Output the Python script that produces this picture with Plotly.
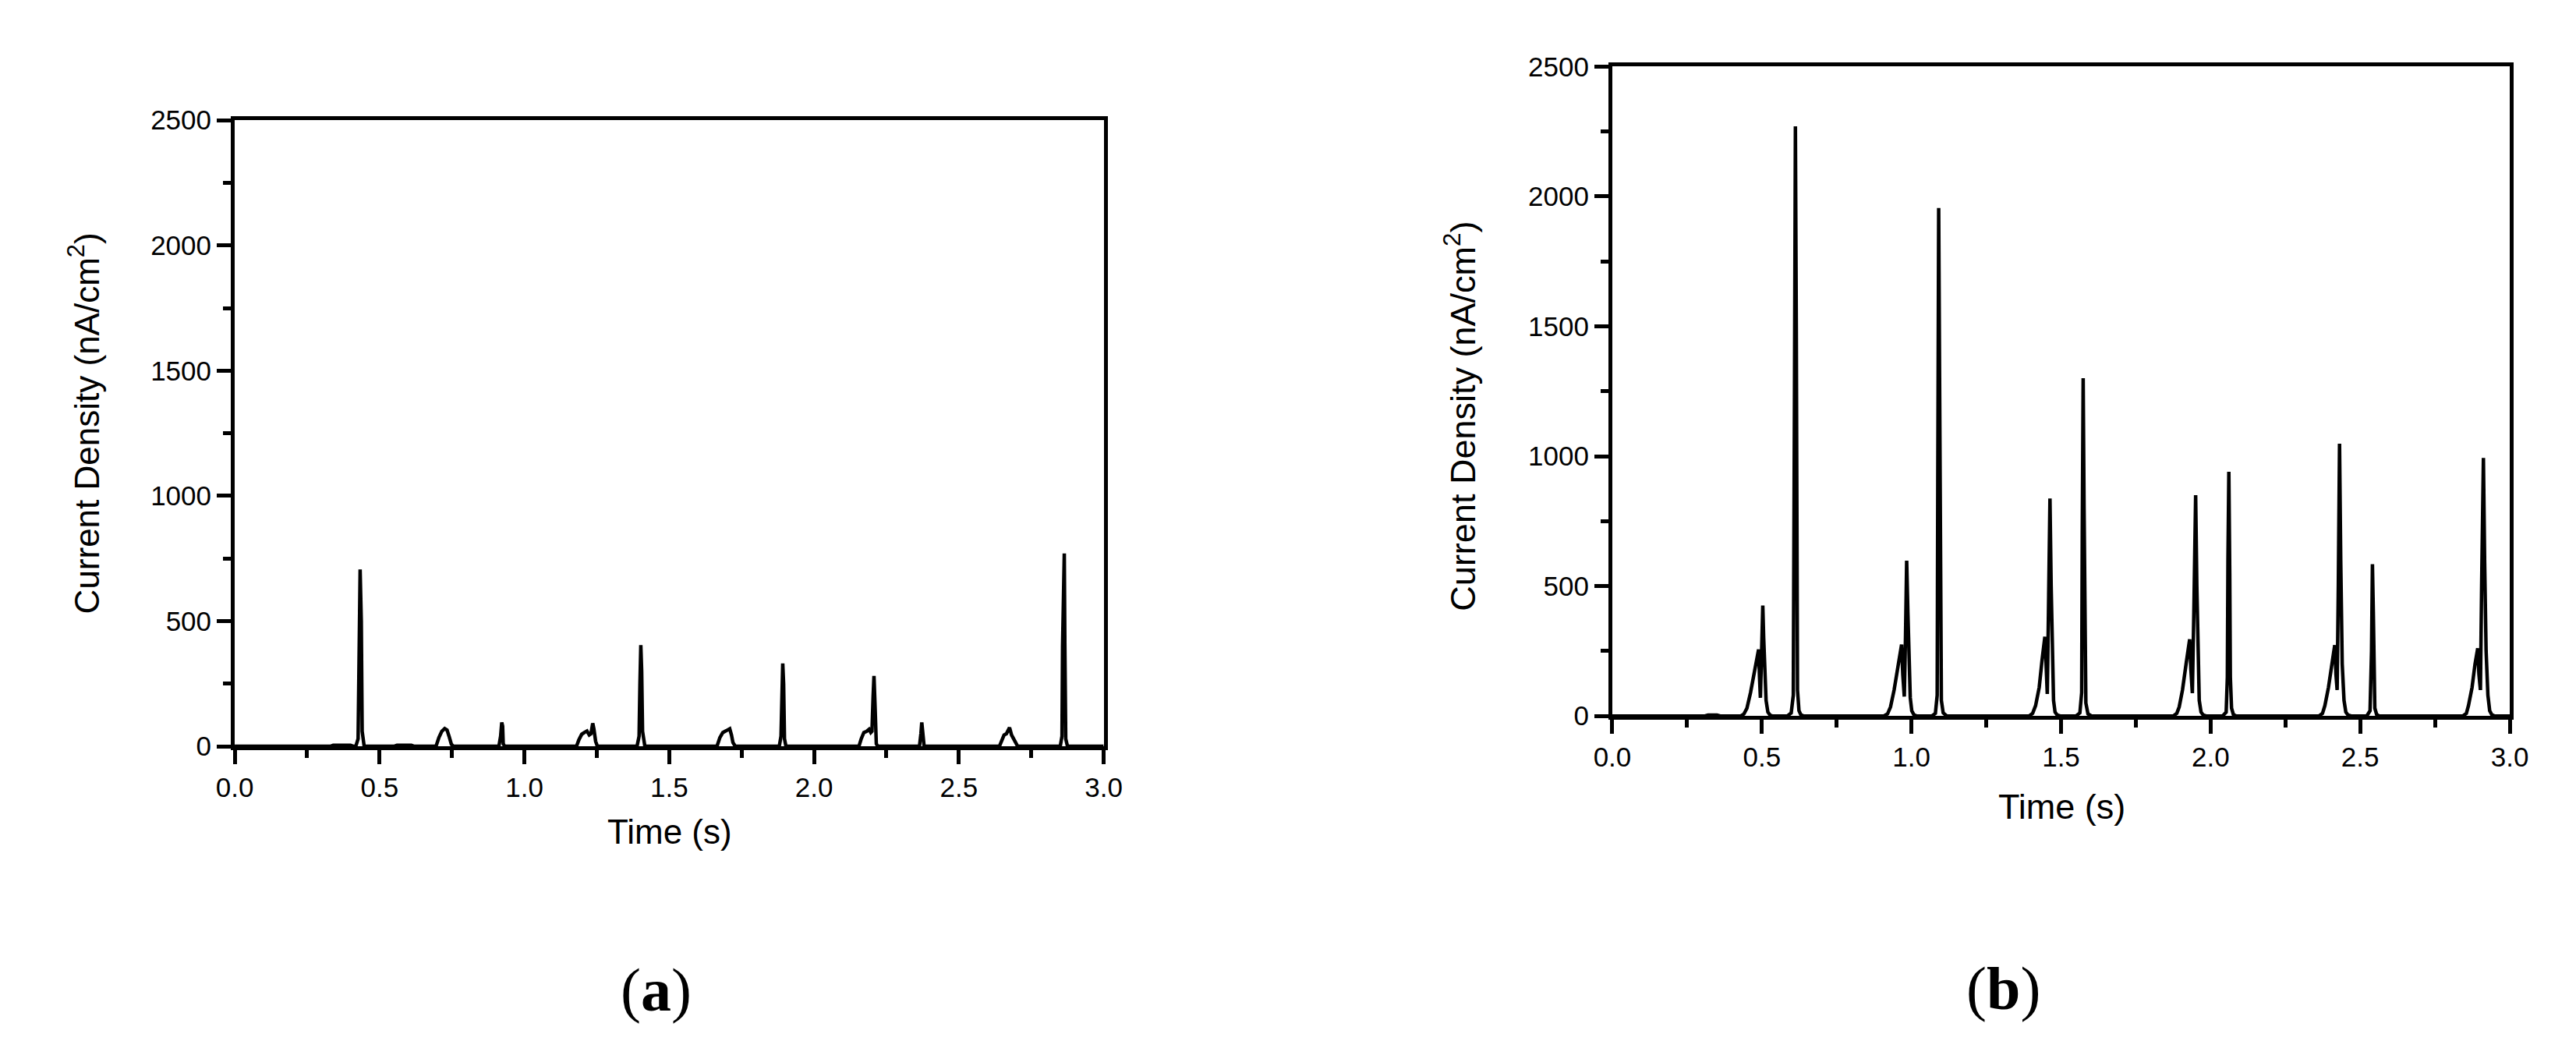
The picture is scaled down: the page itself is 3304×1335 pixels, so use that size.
import plotly.graph_objects as go

# ── data ──
time_a = [0.000, 0.330, 0.340, 0.400, 0.410, 0.418, 0.426, 0.429, 0.433, 0.437, 0.440, 0.447,
          0.550, 0.560, 0.610, 0.620, 0.695, 0.705, 0.715, 0.725, 0.733, 0.740, 0.748, 0.755,
          0.912, 0.918, 0.922, 0.925, 0.927, 0.932,
          1.180, 1.188, 1.198, 1.208, 1.216, 1.224, 1.230, 1.236, 1.240, 1.246, 1.252,
          1.389, 1.396, 1.399, 1.402, 1.405, 1.408, 1.416,
          1.665, 1.675, 1.685, 1.697, 1.709, 1.715, 1.720, 1.728,
          1.880, 1.886, 1.889, 1.892, 1.895, 1.898, 1.903,
          2.155, 2.163, 2.172, 2.182, 2.190, 2.196, 2.200, 2.204, 2.207, 2.211, 2.215, 2.220,
          2.364, 2.369, 2.372, 2.375, 2.380,
          2.640, 2.648, 2.656, 2.664, 2.670, 2.675, 2.682, 2.690, 2.697, 2.703,
          2.850, 2.856, 2.858, 2.861, 2.864, 2.866, 2.869, 2.875, 3.000]
current_a = [0, 0, 4, 4, 0, 0, 30, 350, 706, 500, 60, 0,
             0, 4, 4, 0, 0, 35, 60, 71, 65, 40, 8, 0,
             0, 40, 95, 80, 10, 0,
             0, 25, 48, 56, 61, 45, 50, 92, 70, 20, 0,
             0, 40, 250, 404, 300, 60, 0,
             0, 35, 55, 62, 70, 45, 15, 0,
             0, 40, 200, 331, 250, 30, 0,
             0, 30, 55, 60, 68, 55, 60, 200, 281, 150, 10, 0,
             0, 50, 95, 60, 0,
             0, 25, 45, 50, 65, 75, 45, 25, 10, 0,
             0, 40, 400, 770, 770, 400, 30, 0, 0]

time_b = [0.000, 0.310, 0.320, 0.350, 0.360,
          0.430, 0.440, 0.450, 0.462, 0.474, 0.484, 0.489, 0.492, 0.495, 0.498, 0.503, 0.506, 0.509, 0.514, 0.520, 0.527, 0.535,
          0.585, 0.598, 0.605, 0.609, 0.612, 0.615, 0.617, 0.619, 0.624, 0.630, 0.640,
          0.908, 0.920, 0.930, 0.942, 0.953, 0.962, 0.967, 0.971, 0.976, 0.980, 0.984, 0.988, 0.992, 0.996, 1.001, 1.008, 1.018,
          1.068, 1.080, 1.086, 1.088, 1.091, 1.094, 1.097, 1.100, 1.106, 1.118,
          1.393, 1.405, 1.415, 1.427, 1.437, 1.446, 1.450, 1.454, 1.458, 1.463, 1.467, 1.471, 1.475, 1.480, 1.487, 1.497,
          1.550, 1.563, 1.569, 1.571, 1.574, 1.577, 1.580, 1.583, 1.590, 1.602,
          1.875, 1.887, 1.895, 1.906, 1.918, 1.926, 1.930, 1.934, 1.939, 1.944, 1.950, 1.954, 1.958, 1.962, 1.968, 1.975, 1.985,
          2.040, 2.052, 2.056, 2.058, 2.061, 2.064, 2.066, 2.070, 2.076, 2.085,
          2.362, 2.374, 2.382, 2.394, 2.404, 2.411, 2.415, 2.419, 2.423, 2.427, 2.431, 2.435, 2.440, 2.446, 2.452, 2.459, 2.470,
          2.522, 2.533, 2.538, 2.541, 2.544, 2.546, 2.549, 2.555, 2.563,
          2.843, 2.855, 2.862, 2.874, 2.884, 2.890, 2.893, 2.897, 2.902, 2.906, 2.912, 2.916, 2.921, 2.927, 2.933, 2.940, 2.950,
          3.000]
current_b = [0, 0, 4, 4, 0,
             0, 8, 30, 90, 170, 235, 256, 150, 70, 200, 425, 300, 180, 60, 15, 4, 0,
             0, 12, 80, 1250, 2270, 1500, 700, 100, 20, 5, 0,
             0, 8, 35, 100, 180, 250, 275, 160, 75, 300, 598, 400, 200, 70, 20, 5, 0,
             0, 10, 80, 900, 1955, 1300, 300, 60, 12, 0,
             0, 10, 40, 110, 220, 305, 200, 85, 400, 837, 500, 200, 60, 15, 4, 0,
             0, 12, 90, 700, 1300, 800, 200, 50, 8, 0,
             0, 10, 35, 100, 200, 270, 295, 180, 88, 400, 850, 500, 200, 60, 15, 4, 0,
             0, 15, 150, 600, 940, 550, 150, 30, 6, 0,
             0, 10, 40, 110, 200, 260, 273, 160, 100, 500, 1048, 600, 200, 60, 15, 4, 0,
             0, 20, 250, 584, 400, 120, 30, 6, 0,
             0, 10, 40, 110, 200, 250, 261, 160, 100, 500, 993, 600, 250, 80, 20, 5, 0,
             0]

x_ticks = [0.0, 0.5, 1.0, 1.5, 2.0, 2.5, 3.0]
x_tick_text = ['0.0', '0.5', '1.0', '1.5', '2.0', '2.5', '3.0']
y_ticks = [0, 500, 1000, 1500, 2000, 2500]

W, H = 3304, 1335


def px_x(p):
    return p / W


def px_y(p):
    return 1 - p / H


fig = go.Figure()
fig.add_trace(go.Scatter(x=time_a, y=current_a, mode='lines', xaxis='x', yaxis='y',
                         line=dict(color='black', width=4.5), showlegend=False))
fig.add_trace(go.Scatter(x=time_b, y=current_b, mode='lines', xaxis='x2', yaxis='y2',
                         line=dict(color='black', width=4.5), showlegend=False))

tick_font = dict(family='Liberation Sans, Arial', size=35, color='black')
common_x = dict(range=[0, 3], tickvals=x_ticks, ticktext=x_tick_text, showgrid=False, zeroline=False,
                showline=True, linecolor='black', linewidth=5, mirror=True,
                ticks='outside', ticklen=18, tickwidth=5, tickcolor='black', tickfont=tick_font,
                minor=dict(dtick=0.25, ticks='outside', ticklen=10, tickwidth=5, tickcolor='black'))
common_y = dict(range=[0, 2500], tickvals=y_ticks, showgrid=False, zeroline=False,
                showline=True, linecolor='black', linewidth=5, mirror=True,
                ticks='outside', ticklen=18, tickwidth=5, tickcolor='black', tickfont=tick_font,
                minor=dict(dtick=250, ticks='outside', ticklen=10, tickwidth=5, tickcolor='black'))

fig.update_layout(
    width=W, height=H,
    margin=dict(l=0, r=0, t=0, b=0),
    paper_bgcolor='white', plot_bgcolor='white',
    xaxis=dict(domain=[px_x(273), px_x(1404)], anchor='y', **common_x),
    yaxis=dict(domain=[px_y(957), px_y(130)], anchor='x', **common_y),
    xaxis2=dict(domain=[px_x(2066), px_x(3234)], anchor='y2', **common_x),
    yaxis2=dict(domain=[px_y(917), px_y(59)], anchor='x2', **common_y),
)

title_font = dict(family='Liberation Sans, Arial', size=44, color='black')
label_font = dict(family='Liberation Serif, Times New Roman', size=78, color='black')
ylabel = 'Current Density (nA/cm<sup>2</sup>)'

annotations = [
    dict(text=ylabel, x=px_x(77), y=px_y(530), textangle=-90, font=title_font),
    dict(text=ylabel, x=px_x(1868), y=px_y(521), textangle=-90, font=dict(title_font, size=45)),
    dict(text='Time (s)', x=px_x(839), y=px_y(1070), font=title_font),
    dict(text='Time (s)', x=px_x(2651), y=px_y(1037), font=dict(title_font, size=45)),
    dict(text='(<b>a</b>)', x=px_x(821), y=px_y(1279), font=label_font),
    dict(text='(<b>b</b>)', x=px_x(2575), y=px_y(1277), font=label_font),
]
for a in annotations:
    a.update(xref='paper', yref='paper', xanchor='center', yanchor='middle', showarrow=False)
fig.update_layout(annotations=annotations)

fig.write_html("out.html")
